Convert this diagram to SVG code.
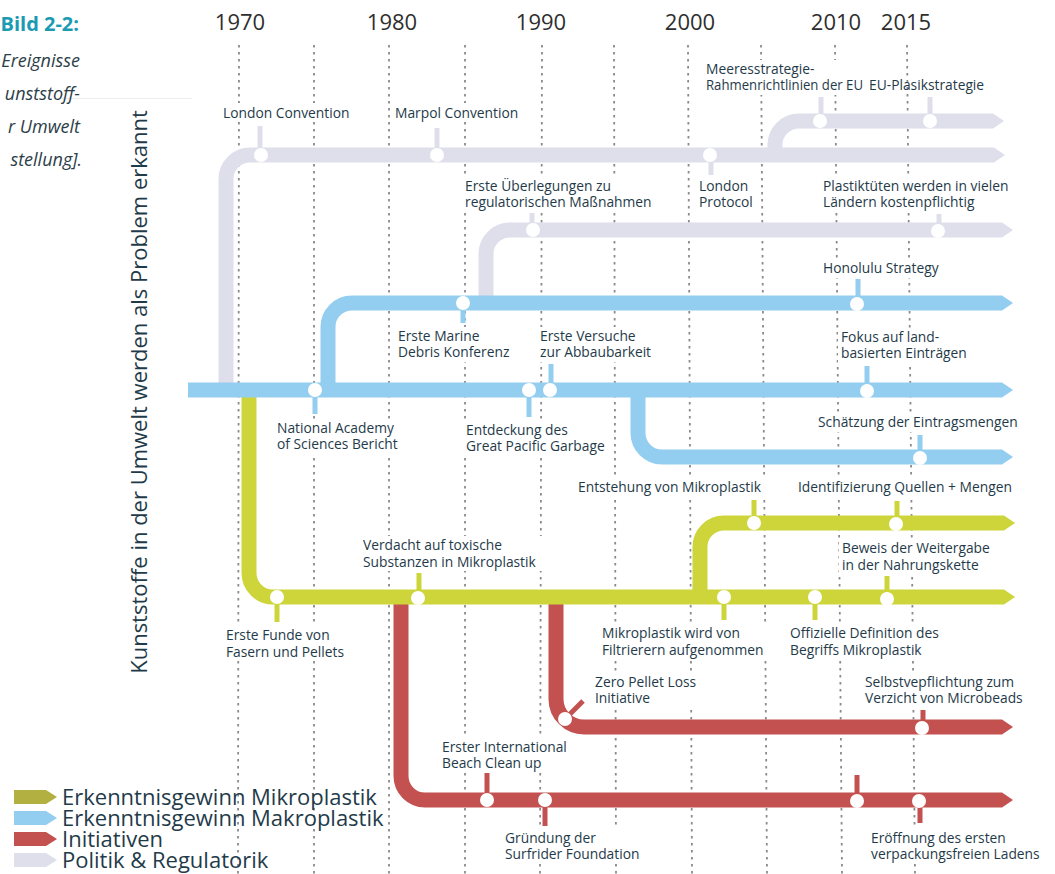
<svg xmlns="http://www.w3.org/2000/svg" width="1055" height="874" viewBox="0 0 1055 874">
  <defs>
    <style>
      .grid { stroke: #8a8a8a; stroke-width: 1.8; stroke-dasharray: 2.5 4.5; fill: none; }
      .trk { fill: none; stroke-width: 15; }
      .tick { stroke-width: 5; }
      .cg { stroke: #dedfea; }
      .cb { stroke: #93cdef; }
      .cy { stroke: #cdd53b; }
      .cr { stroke: #c3514f; }
      .dot { fill: #ffffff; }
      .bg { fill: #ffffff; }
      .lbl { font-family: "Open Sans", "Noto Sans", "DejaVu Sans", sans-serif; font-size: 13.8px; fill: #1f3b4a; }
      .year { font-family: "Open Sans", "Noto Sans", sans-serif; font-size: 22px; fill: #2e2e2e; text-anchor: middle; }
      .leg { font-family: "Open Sans", "Noto Sans", sans-serif; font-size: 22px; fill: #1f3b4a; }
      .side { font-family: "Open Sans", "Noto Sans", sans-serif; font-size: 18px; font-style: italic; fill: #2c3e48; text-anchor: end; }
    </style>
    <marker id="tipG" markerUnits="userSpaceOnUse" markerWidth="12" markerHeight="16" refX="0" refY="8" orient="auto"><path d="M0,0.5 L11,8 L0,15.5 z" fill="#dedfea"/></marker>
    <marker id="tipB" markerUnits="userSpaceOnUse" markerWidth="12" markerHeight="16" refX="0" refY="8" orient="auto"><path d="M0,0.5 L11,8 L0,15.5 z" fill="#93cdef"/></marker>
    <marker id="tipY" markerUnits="userSpaceOnUse" markerWidth="12" markerHeight="16" refX="0" refY="8" orient="auto"><path d="M0,0.5 L11,8 L0,15.5 z" fill="#cdd53b"/></marker>
    <marker id="tipR" markerUnits="userSpaceOnUse" markerWidth="12" markerHeight="16" refX="0" refY="8" orient="auto"><path d="M0,0.5 L11,8 L0,15.5 z" fill="#c3514f"/></marker>
  </defs>

  <rect width="1055" height="874" fill="#ffffff"/>

  <!-- caption fragment at the left margin -->
  <g id="caption">
    <line x1="62" y1="98.5" x2="192" y2="98.5" stroke="#ededed" stroke-width="1"/>
    <text x="79" y="31" font-family="'Open Sans','Noto Sans',sans-serif" font-size="20" font-weight="bold" fill="#1b9ab3" text-anchor="end">Bild 2-2:</text>
    <text class="side"><tspan x="80" y="67">Ereignisse</tspan><tspan x="80" y="100">unststoff-</tspan><tspan x="80" y="133">r Umwelt</tspan><tspan x="82" y="166">stellung].</tspan></text>
  </g>

  <!-- year axis -->
  <g id="years">
    <text class="year" x="240" y="30">1970</text>
    <text class="year" x="392" y="30">1980</text>
    <text class="year" x="541" y="30">1990</text>
    <text class="year" x="690" y="30">2000</text>
    <text class="year" x="836" y="30">2010</text>
    <text class="year" x="906" y="30">2015</text>
  </g>

  <!-- five-year grid -->
  <g id="grid">
    <line class="grid" x1="239" y1="45" x2="238" y2="874"/>
    <line class="grid" x1="314" y1="45" x2="314" y2="874"/>
    <line class="grid" x1="389" y1="45" x2="389" y2="874"/>
    <line class="grid" x1="465" y1="45" x2="465" y2="874"/>
    <line class="grid" x1="542" y1="45" x2="540" y2="874"/>
    <line class="grid" x1="614" y1="45" x2="616" y2="874"/>
    <line class="grid" x1="688" y1="45" x2="692" y2="874"/>
    <line class="grid" x1="761" y1="45" x2="767" y2="874"/>
    <line class="grid" x1="835" y1="45" x2="842" y2="874"/>
    <line class="grid" x1="907" y1="45" x2="915" y2="874"/>
  </g>

  <!-- vertical axis title -->
  <text id="axis-title" transform="translate(147,392) rotate(-90)" font-family="'Open Sans','Noto Sans',sans-serif" font-size="22" fill="#1f3b4a" text-anchor="middle">Kunststoffe in der Umwelt werden als Problem erkannt</text>

  <!-- label backgrounds keep the grid clear behind the texts -->
  <g id="label-bg">
    <rect class="bg" x="220" y="103" width="134" height="19"/>
    <rect class="bg" x="392" y="103" width="140" height="19"/>
    <rect class="bg" x="696" y="177" width="60" height="36"/>
    <rect class="bg" x="703" y="60" width="163" height="35"/>
    <rect class="bg" x="462" y="177" width="200" height="36"/>
    <rect class="bg" x="820" y="177" width="192" height="36"/>
    <rect class="bg" x="820" y="259" width="124" height="19"/>
    <rect class="bg" x="395" y="327" width="122" height="35"/>
    <rect class="bg" x="537" y="327" width="122" height="35"/>
    <rect class="bg" x="838" y="328" width="134" height="35"/>
    <rect class="bg" x="274" y="419" width="128" height="35"/>
    <rect class="bg" x="463" y="421" width="150" height="35"/>
    <rect class="bg" x="815" y="413" width="210" height="19"/>
    <rect class="bg" x="575" y="478" width="195" height="19"/>
    <rect class="bg" x="795" y="478" width="230" height="19"/>
    <rect class="bg" x="360" y="536" width="186" height="35"/>
    <rect class="bg" x="839" y="539" width="158" height="35"/>
    <rect class="bg" x="223" y="626" width="126" height="35"/>
    <rect class="bg" x="599" y="624" width="172" height="35"/>
    <rect class="bg" x="787" y="624" width="163" height="35"/>
    <rect class="bg" x="592" y="673" width="108" height="35"/>
    <rect class="bg" x="862" y="673" width="168" height="35"/>
    <rect class="bg" x="439" y="738" width="134" height="35"/>
    <rect class="bg" x="502" y="829" width="156" height="35"/>
    <rect class="bg" x="868" y="829" width="180" height="35"/>
  </g>

  <!-- tracks -->
  <g id="connectors">
    <path id="trk-politik-main" class="trk cg" d="M226,390 V179 A24,24 0 0 1 250,155 H994" marker-end="url(#tipG)"/>
    <path id="trk-politik-eu" class="trk cg" d="M775,155 V145 A24,24 0 0 1 799,121 H993" marker-end="url(#tipG)"/>
    <path id="trk-politik-reg" class="trk cg" d="M486,303 V254 A24,24 0 0 1 510,230 H1002" marker-end="url(#tipG)"/>
    <path id="trk-init-left" class="trk cr" d="M401,597 V776 A24,24 0 0 0 425,800 H1002" marker-end="url(#tipR)"/>
    <path id="trk-init-right" class="trk cr" d="M556,597 V699 A28,28 0 0 0 584,727 H1002" marker-end="url(#tipR)"/>
    <path id="trk-mikro-main" class="trk cy" d="M249,390 V573 A24,24 0 0 0 273,597 H1004" marker-end="url(#tipY)"/>
    <path id="trk-mikro-up" class="trk cy" d="M700,597 V547 A24,24 0 0 1 724,523 H1004" marker-end="url(#tipY)"/>
    <path id="trk-makro-up" class="trk cb" d="M328,390 V327 A24,24 0 0 1 352,303 H1002" marker-end="url(#tipB)"/>
    <path id="trk-makro-low" class="trk cb" d="M638,390 V433 A24,24 0 0 0 662,457 H1002" marker-end="url(#tipB)"/>
    <path id="trk-makro-main" class="trk cb" d="M188,390 H1002" marker-end="url(#tipB)"/>
  </g>

  <!-- Politik & Regulatorik -->
  <g id="ev-london-convention">
    <line class="tick cg" x1="260" y1="126" x2="260" y2="155"/>
    <circle class="dot" cx="261" cy="155" r="7"/>
    <text class="lbl" x="223" y="118">London Convention</text>
  </g>
  <g id="ev-marpol">
    <line class="tick cg" x1="437" y1="128" x2="437" y2="155"/>
    <circle class="dot" cx="437" cy="155" r="7"/>
    <text class="lbl" x="395" y="118">Marpol Convention</text>
  </g>
  <g id="ev-london-protocol">
    <line class="tick cg" x1="711" y1="155" x2="711" y2="175"/>
    <circle class="dot" cx="710" cy="155" r="7"/>
    <text class="lbl"><tspan x="699" y="191">London</tspan><tspan x="699" y="207">Protocol</tspan></text>
  </g>
  <g id="ev-meeresstrategie">
    <line class="tick cg" x1="821" y1="97" x2="821" y2="121"/>
    <circle class="dot" cx="820" cy="121" r="7"/>
    <text class="lbl"><tspan x="706" y="74">Meeresstrategie-</tspan><tspan x="706" y="90" textLength="157" lengthAdjust="spacingAndGlyphs">Rahmenrichtlinien der EU</tspan></text>
  </g>
  <g id="ev-eu-plastik">
    <line class="tick cg" x1="930" y1="97" x2="930" y2="121"/>
    <circle class="dot" cx="930" cy="121" r="7"/>
    <text class="lbl" x="869" y="90">EU-Plasikstrategie</text>
  </g>
  <g id="ev-regulatorisch">
    <line class="tick cg" x1="532" y1="213" x2="532" y2="230"/>
    <circle class="dot" cx="533" cy="230" r="7"/>
    <text class="lbl"><tspan x="465" y="191">Erste Überlegungen zu</tspan><tspan x="465" y="207">regulatorischen Maßnahmen</tspan></text>
  </g>
  <g id="ev-plastiktueten">
    <line class="tick cg" x1="939" y1="214" x2="939" y2="230"/>
    <circle class="dot" cx="938" cy="231" r="7"/>
    <text class="lbl"><tspan x="823" y="191">Plastiktüten werden in vielen</tspan><tspan x="823" y="207">Ländern kostenpflichtig</tspan></text>
  </g>

  <!-- Erkenntnisgewinn Makroplastik -->
  <g id="ev-marine-debris">
    <line class="tick cb" x1="463" y1="303" x2="463" y2="323"/>
    <circle class="dot" cx="463" cy="303" r="7"/>
    <text class="lbl"><tspan x="398" y="341">Erste Marine</tspan><tspan x="398" y="357">Debris Konferenz</tspan></text>
  </g>
  <g id="ev-honolulu">
    <line class="tick cb" x1="858" y1="279" x2="858" y2="303"/>
    <circle class="dot" cx="857" cy="304" r="7"/>
    <text class="lbl" x="823" y="273">Honolulu Strategy</text>
  </g>
  <g id="ev-nas">
    <line class="tick cb" x1="315" y1="390" x2="315" y2="414"/>
    <circle class="dot" cx="315" cy="390" r="7"/>
    <text class="lbl"><tspan x="277" y="433">National Academy</tspan><tspan x="277" y="449">of Sciences Bericht</tspan></text>
  </g>
  <g id="ev-garbage-patch">
    <line class="tick cb" x1="529" y1="390" x2="529" y2="417"/>
    <circle class="dot" cx="529" cy="390" r="7"/>
    <text class="lbl"><tspan x="466" y="435">Entdeckung des</tspan><tspan x="466" y="451">Great Pacific Garbage</tspan></text>
  </g>
  <g id="ev-abbaubarkeit">
    <line class="tick cb" x1="551" y1="364" x2="551" y2="390"/>
    <circle class="dot" cx="550" cy="390" r="7"/>
    <text class="lbl"><tspan x="540" y="341">Erste Versuche</tspan><tspan x="540" y="357">zur Abbaubarkeit</tspan></text>
  </g>
  <g id="ev-landbasiert">
    <line class="tick cb" x1="867" y1="366" x2="867" y2="390"/>
    <circle class="dot" cx="867" cy="391" r="7"/>
    <text class="lbl"><tspan x="841" y="342">Fokus auf land-</tspan><tspan x="841" y="358">basierten Einträgen</tspan></text>
  </g>
  <g id="ev-eintragsmengen">
    <line class="tick cb" x1="920" y1="435" x2="920" y2="457"/>
    <circle class="dot" cx="920" cy="458" r="7"/>
    <text class="lbl" x="818" y="427">Schätzung der Eintragsmengen</text>
  </g>

  <!-- Erkenntnisgewinn Mikroplastik -->
  <g id="ev-entstehung">
    <line class="tick cy" x1="754" y1="500" x2="754" y2="523"/>
    <circle class="dot" cx="754" cy="523" r="7"/>
    <text class="lbl" x="578" y="492">Entstehung von Mikroplastik</text>
  </g>
  <g id="ev-quellen">
    <line class="tick cy" x1="897" y1="501" x2="897" y2="523"/>
    <circle class="dot" cx="896" cy="524" r="7"/>
    <text class="lbl" x="798" y="492">Identifizierung Quellen + Mengen</text>
  </g>
  <g id="ev-funde">
    <line class="tick cy" x1="277" y1="597" x2="277" y2="622"/>
    <circle class="dot" cx="277" cy="597" r="7"/>
    <text class="lbl"><tspan x="226" y="640">Erste Funde von</tspan><tspan x="226" y="657">Fasern und Pellets</tspan></text>
  </g>
  <g id="ev-toxisch">
    <line class="tick cy" x1="419" y1="573" x2="419" y2="597"/>
    <circle class="dot" cx="418" cy="598" r="7"/>
    <text class="lbl"><tspan x="363" y="550">Verdacht auf toxische</tspan><tspan x="363" y="567">Substanzen in Mikroplastik</tspan></text>
  </g>
  <g id="ev-filtrierer">
    <line class="tick cy" x1="724" y1="597" x2="724" y2="620"/>
    <circle class="dot" cx="724" cy="597" r="7"/>
    <text class="lbl"><tspan x="602" y="638">Mikroplastik wird von</tspan><tspan x="602" y="655">Filtrierern aufgenommen</tspan></text>
  </g>
  <g id="ev-definition">
    <line class="tick cy" x1="815" y1="597" x2="815" y2="620"/>
    <circle class="dot" cx="815" cy="597" r="7"/>
    <text class="lbl"><tspan x="790" y="638">Offizielle Definition des</tspan><tspan x="790" y="655">Begriffs Mikroplastik</tspan></text>
  </g>
  <g id="ev-nahrungskette">
    <line class="tick cy" x1="887" y1="576" x2="887" y2="597"/>
    <circle class="dot" cx="887" cy="599" r="7"/>
    <text class="lbl"><tspan x="842" y="553">Beweis der Weitergabe</tspan><tspan x="842" y="570">in der Nahrungskette</tspan></text>
  </g>

  <!-- Initiativen -->
  <g id="ev-zero-pellet">
    <line class="tick cr" x1="565" y1="719" x2="583" y2="701"/>
    <circle class="dot" cx="565" cy="719" r="7"/>
    <text class="lbl"><tspan x="595" y="687">Zero Pellet Loss</tspan><tspan x="595" y="703">Initiative</tspan></text>
  </g>
  <g id="ev-microbeads">
    <line class="tick cr" x1="923" y1="710" x2="923" y2="727"/>
    <circle class="dot" cx="922" cy="728" r="7"/>
    <text class="lbl"><tspan x="865" y="687">Selbstvepflichtung zum</tspan><tspan x="865" y="703">Verzicht von Microbeads</tspan></text>
  </g>
  <g id="ev-beach-cleanup">
    <line class="tick cr" x1="487" y1="773" x2="487" y2="800"/>
    <circle class="dot" cx="487" cy="800" r="7"/>
    <text class="lbl"><tspan x="442" y="752">Erster International</tspan><tspan x="442" y="768">Beach Clean up</tspan></text>
  </g>
  <g id="ev-surfrider">
    <line class="tick cr" x1="545" y1="800" x2="545" y2="826"/>
    <circle class="dot" cx="545" cy="800" r="7"/>
    <text class="lbl"><tspan x="505" y="843">Gründung der</tspan><tspan x="505" y="859">Surfrider Foundation</tspan></text>
  </g>
  <g id="ev-2010-initiative">
    <line class="tick cr" x1="857" y1="775" x2="857" y2="800"/>
    <circle class="dot" cx="857" cy="801" r="7"/>
  </g>
  <g id="ev-unverpackt">
    <line class="tick cr" x1="920" y1="800" x2="920" y2="823"/>
    <circle class="dot" cx="919" cy="801" r="7"/>
    <text class="lbl"><tspan x="871" y="843">Eröffnung des ersten</tspan><tspan x="871" y="859">verpackungsfreien Ladens</tspan></text>
  </g>

  <!-- legend -->
  <g id="legend">
    <path d="M14,790 H46 L57,797 L46,804 H14 z" fill="#b2b040"/>
    <path d="M14,811 H46 L57,818 L46,825 H14 z" fill="#93cdef"/>
    <path d="M14,832 H46 L57,839 L46,846 H14 z" fill="#c3514f"/>
    <path d="M14,853 H46 L57,860 L46,867 H14 z" fill="#dedfea"/>
    <text class="leg"><tspan x="62" y="805">Erkenntnisgewinn Mikroplastik</tspan><tspan x="62" y="826">Erkenntnisgewinn Makroplastik</tspan><tspan x="62" y="847">Initiativen</tspan><tspan x="62" y="868">Politik &amp; Regulatorik</tspan></text>
  </g>
</svg>
